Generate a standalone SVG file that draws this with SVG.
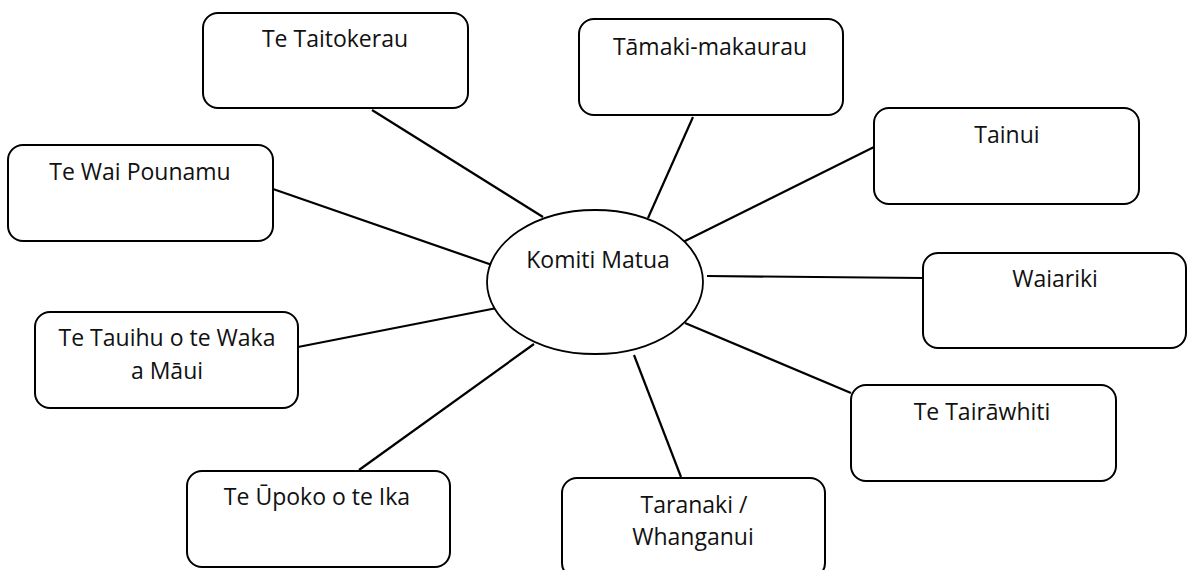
<svg xmlns="http://www.w3.org/2000/svg" width="1187" height="570" viewBox="0 0 1187 570">
<style>
.box{fill:#fff;stroke:#000;stroke-width:2}
.hub{fill:#fff;stroke:#000;stroke-width:1.8}
.lbl{font-family:"Open Sans","Liberation Sans",sans-serif;font-size:23px;fill:#111;text-anchor:middle}
#connectors line{stroke:#000;stroke-width:2.2}
</style>
<rect width="1187" height="570" fill="#fff"/>
<g id="connectors">
<line x1="372" y1="110" x2="543" y2="217"/>
<line x1="693" y1="117" x2="648" y2="218"/>
<line x1="874" y1="147" x2="683" y2="242"/>
<line x1="273" y1="189" x2="495" y2="266"/>
<line x1="707" y1="276" x2="923" y2="278"/>
<line x1="298" y1="347" x2="502" y2="307"/>
<line x1="685" y1="323" x2="851" y2="393"/>
<line x1="634" y1="355" x2="681" y2="477"/>
<line x1="534" y1="344" x2="359" y2="470"/>
</g>
<g id="komiti-matua">
<ellipse class="hub" cx="595" cy="282" rx="108" ry="72"/>
<text class="lbl" x="598" y="268">Komiti Matua</text>
</g>
<g id="te-taitokerau">
<rect class="box" x="203" y="13" width="265" height="95" rx="15"/>
<text class="lbl" x="335" y="47">Te Taitokerau</text>
</g>
<g id="tamaki-makaurau">
<rect class="box" x="579" y="19" width="264" height="96" rx="15"/>
<text class="lbl" x="710" y="55">Tāmaki-makaurau</text>
</g>
<g id="te-wai-pounamu">
<rect class="box" x="8" y="145" width="265" height="96" rx="15"/>
<text class="lbl" x="140" y="180">Te Wai Pounamu</text>
</g>
<g id="tainui">
<rect class="box" x="874" y="108" width="265" height="96" rx="15"/>
<text class="lbl" x="1007" y="143">Tainui</text>
</g>
<g id="waiariki">
<rect class="box" x="923" y="253" width="263" height="95" rx="15"/>
<text class="lbl" x="1055" y="287">Waiariki</text>
</g>
<g id="te-tauihu">
<rect class="box" x="35" y="312" width="263" height="96" rx="15"/>
<text class="lbl" x="167" y="346">Te Tauihu o te Waka</text>
<text class="lbl" x="167" y="379">a Māui</text>
</g>
<g id="te-tairawhiti">
<rect class="box" x="851" y="385" width="265" height="96" rx="15"/>
<text class="lbl" x="982" y="420">Te Tairāwhiti</text>
</g>
<g id="te-upoko">
<rect class="box" x="187" y="471" width="263" height="96" rx="15"/>
<text class="lbl" x="317" y="505">Te Ūpoko o te Ika</text>
</g>
<g id="taranaki-whanganui">
<rect class="box" x="562" y="478" width="263" height="100" rx="15"/>
<text class="lbl" x="694" y="513">Taranaki /</text>
<text class="lbl" x="693" y="545">Whanganui</text>
</g>
</svg>
